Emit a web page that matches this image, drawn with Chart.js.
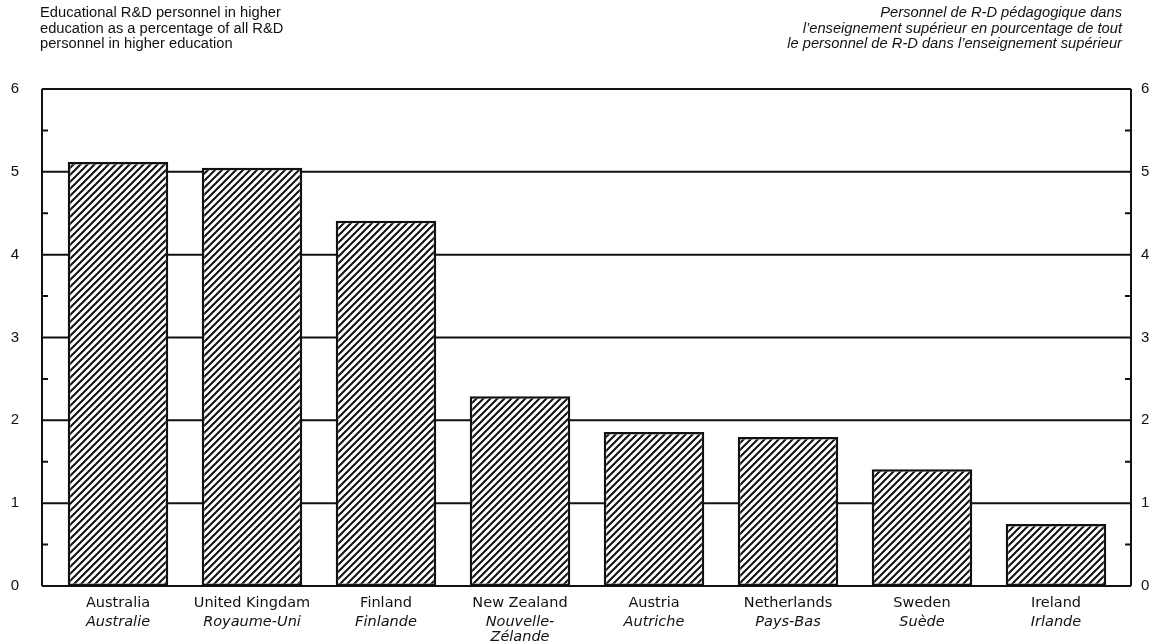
<!DOCTYPE html>
<html>
<head>
<meta charset="utf-8">
<script src="https://cdn.jsdelivr.net/npm/chart.js@4.4.1/dist/chart.umd.min.js"></script>
<style>
    html, body { margin: 0; padding: 0; background: #fff; }
    #wrap { position: relative; width: 1156px; height: 644px; }
    .title { position: absolute; top: 5px; font-family: "Liberation Sans", Arial, sans-serif; font-size: 14.7px; line-height: 15.5px; color: #111; }
    #titleEn { left: 40px; }
    #titleFr { right: 34px; text-align: right; font-style: italic; }
    canvas { position: absolute; left: 0; top: 0; }
</style>
</head>
<body>
<div id="wrap">
    <canvas id="chart" width="1156" height="644"></canvas>
    <div class="title" id="titleEn">Educational R&amp;D personnel in higher<br>education as a percentage of all R&amp;D<br>personnel in higher education</div>
    <div class="title" id="titleFr">Personnel de R-D pédagogique dans<br>l’enseignement supérieur en pourcentage de tout<br>le personnel de R-D dans l’enseignement supérieur</div>
</div>
<script>
const countriesEn = ['Australia', 'United Kingdam', 'Finland', 'New Zealand', 'Austria', 'Netherlands', 'Sweden', 'Ireland'];
const countriesFr = [['Australie'], ['Royaume-Uni'], ['Finlande'], ['Nouvelle-', 'Zélande'], ['Autriche'], ['Pays-Bas'], ['Suède'], ['Irlande']];
const shares = [5.12, 5.05, 4.41, 2.29, 1.86, 1.80, 1.41, 0.75];
const yTicks = [0, 1, 2, 3, 4, 5, 6];

const FONT = '"Liberation Sans", Arial, sans-serif';
const LABEL_FONT = '"DejaVu Sans", sans-serif';

// motif hachuré "/"
function makeHatch() {
    const size = 7;
    const c = document.createElement('canvas');
    c.width = size; c.height = size;
    const g = c.getContext('2d');
    g.fillStyle = '#fff';
    g.fillRect(0, 0, size, size);
    g.strokeStyle = '#111';
    g.lineWidth = 2;
    g.beginPath();
    g.moveTo(-1, size + 1); g.lineTo(size + 1, -1);
    g.moveTo(-1, 1); g.lineTo(1, -1);
    g.moveTo(size - 1, size + 1); g.lineTo(size + 1, size - 1);
    g.stroke();
    return g.createPattern(c, 'repeat');
}

// cadre, grille et petites graduations
const framePlugin = {
    id: 'frame',
    beforeDatasetsDraw(chart) {
        const ctx = chart.ctx;
        const y = chart.scales.y;
        const a = chart.chartArea;
        const left = a.left - 9, right = a.right + 8;
        ctx.save();
        ctx.strokeStyle = '#111';
        ctx.lineWidth = 2;
        yTicks.forEach(v => {
            const py = y.getPixelForValue(v);
            ctx.beginPath();
            ctx.moveTo(left, py); ctx.lineTo(right, py);
            ctx.stroke();
        });
        ctx.beginPath();
        ctx.moveTo(left, y.getPixelForValue(6)); ctx.lineTo(left, y.getPixelForValue(0));
        ctx.moveTo(right, y.getPixelForValue(6)); ctx.lineTo(right, y.getPixelForValue(0));
        ctx.stroke();
        for (let v = 0.5; v < 6; v += 1) {
            const py = y.getPixelForValue(v);
            ctx.beginPath();
            ctx.moveTo(left, py); ctx.lineTo(left + 6, py);
            ctx.moveTo(right - 6, py); ctx.lineTo(right, py);
            ctx.stroke();
        }
        ctx.restore();
    },
    afterDraw(chart) {
        const ctx = chart.ctx;
        const x = chart.scales.x;
        ctx.save();
        ctx.fillStyle = '#111';
        ctx.textAlign = 'center';
        ctx.textBaseline = 'middle';
        countriesEn.forEach((name, i) => {
            const px = x.getPixelForValue(i);
            ctx.font = '14.5px ' + LABEL_FONT;
            ctx.fillText(name, px, 603);
            ctx.font = 'italic 14.5px ' + LABEL_FONT;
            countriesFr[i].forEach((line, j) => ctx.fillText(line, px, 622 + j * 15));
        });
        ctx.restore();
    }
};

const tickFont = { family: FONT, size: 15 };

new Chart(document.getElementById('chart'), {
    type: 'bar',
    data: {
        labels: countriesEn,
        datasets: [{
            data: shares,
            backgroundColor: makeHatch(),
            borderColor: '#111',
            borderWidth: 2.5,
            borderSkipped: false,
            barPercentage: 0.75,
            categoryPercentage: 1
        }]
    },
    options: {
        responsive: false,
        animation: false,
        layout: { padding: { top: 89, left: 0, right: 0, bottom: 0 } },
        plugins: { legend: { display: false }, tooltip: { enabled: false } },
        scales: {
            x: {
                grid: { display: false },
                border: { display: false },
                ticks: { display: false },
                afterFit: s => { s.height = 58; }
            },
            y: {
                position: 'left',
                min: 0, max: 6,
                grid: { display: false, drawTicks: false },
                border: { display: false },
                ticks: { stepSize: 1, color: '#111', font: tickFont, padding: 32 },
                afterFit: s => { s.width = 51; }
            },
            y2: {
                position: 'right',
                min: 0, max: 6,
                grid: { display: false, drawTicks: false },
                border: { display: false },
                ticks: { stepSize: 1, color: '#111', font: tickFont, padding: 18 },
                afterFit: s => { s.width = 33; }
            }
        }
    },
    plugins: [framePlugin]
});
</script>
</body>
</html>
